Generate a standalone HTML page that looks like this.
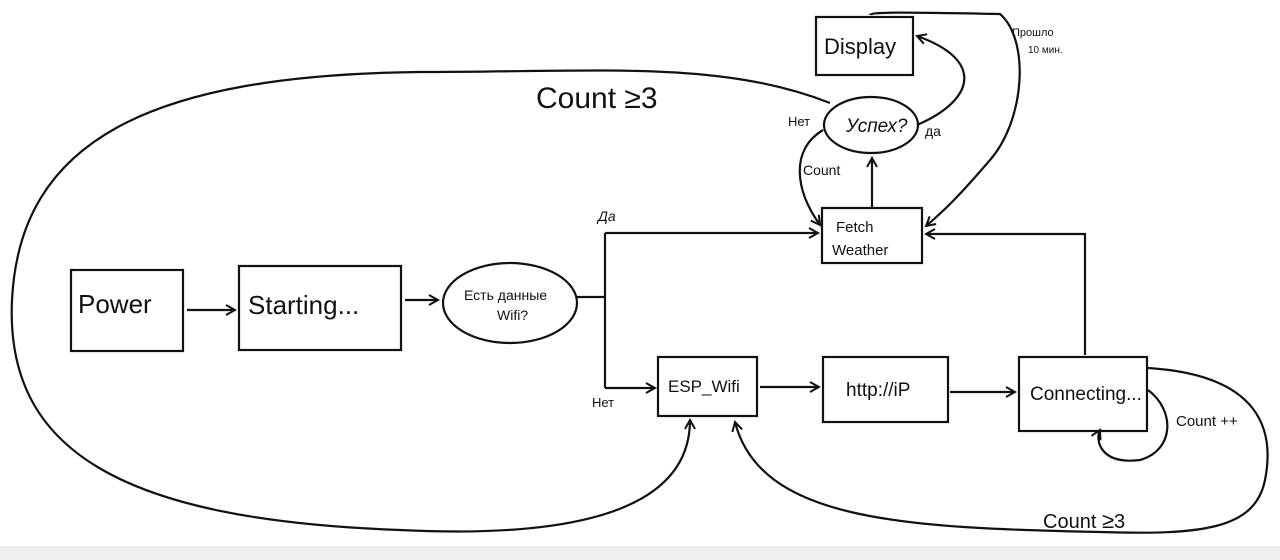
<!DOCTYPE html>
<html><head><meta charset="utf-8"><style>
html,body{margin:0;padding:0;background:#fff;}
svg{display:block;}
text{font-family:"Liberation Sans","DejaVu Sans",sans-serif;fill:#111;}
</style></head><body>
<svg width="1280" height="560" viewBox="0 0 1280 560" xmlns="http://www.w3.org/2000/svg">
<defs><marker id="a" markerWidth="12" markerHeight="12" refX="10" refY="6" orient="auto" markerUnits="userSpaceOnUse"><path d="M1,1 L10,6 L1,11" fill="none" stroke="#111" stroke-width="2"/></marker></defs>
<rect x="0" y="546" width="1280" height="14" fill="#efefef"/>
<g fill="none" stroke="#111" stroke-width="2.2">
<rect x="71" y="270" width="112" height="81"/>
<rect x="239" y="266" width="162" height="84"/>
<ellipse cx="510" cy="303" rx="67" ry="40"/>
<rect x="822" y="208" width="100" height="55"/>
<ellipse cx="871" cy="125" rx="47" ry="28"/>
<rect x="816" y="17" width="97" height="58"/>
<rect x="658" y="357" width="99" height="59"/>
<rect x="823" y="357" width="125" height="65"/>
<rect x="1019" y="357" width="128" height="74"/>
<path d="M187,310 L235,310" marker-end="url(#a)"/>
<path d="M405,300 L438,300" marker-end="url(#a)"/>
<path d="M577,297 L605,297 M605,233 L605,388"/>
<path d="M605,233 L818,233" marker-end="url(#a)"/>
<path d="M605,388 L655,388" marker-end="url(#a)"/>
<path d="M760,387 L819,387" marker-end="url(#a)"/>
<path d="M950,392 L1015,392" marker-end="url(#a)"/>
<path d="M1085,355 L1085,234 L926,234" marker-end="url(#a)"/>
<path d="M872,208 L872,158" marker-end="url(#a)"/>
<path d="M823,130 C790,150 795,190 820,225" marker-end="url(#a)"/>
<path d="M917,125 C975,100 985,60 917,36" marker-end="url(#a)"/>
<path d="M870,15 C870,12 900,12 1000,14 C1030,40 1025,120 990,160 C960,195 945,210 926,226" marker-end="url(#a)"/>
<path d="M830,103 C720,60 600,72 420,72 C150,75 20,140 12,300 C5,450 120,520 400,530 C600,540 690,500 690,420" marker-end="url(#a)"/>
<path d="M1148,368 C1260,375 1275,430 1265,480 C1255,530 1200,535 1100,532 C900,528 760,520 735,422" marker-end="url(#a)"/>
<path d="M1148,390 C1175,410 1175,450 1140,460 C1100,465 1095,440 1100,430" marker-end="url(#a)"/>
</g>
<text x="78" y="313" font-size="26">Power</text>
<text x="248" y="314" font-size="26">Starting...</text>
<text x="464" y="300" font-size="14">Есть данные</text>
<text x="497" y="320" font-size="14">Wifi?</text>
<text x="836" y="232" font-size="15">Fetch</text>
<text x="832" y="255" font-size="15">Weather</text>
<text x="846" y="132" font-size="19" font-style="italic">Успех?</text>
<text x="824" y="54" font-size="22">Display</text>
<text x="668" y="392" font-size="17">ESP_Wifi</text>
<text x="846" y="396" font-size="19">http://iP</text>
<text x="1030" y="400" font-size="19">Connecting...</text>
<text x="598" y="221" font-size="14" font-style="italic">Да</text>
<text x="592" y="407" font-size="13">Нет</text>
<text x="788" y="126" font-size="13">Нет</text>
<text x="925" y="136" font-size="14">да</text>
<text x="803" y="175" font-size="14">Count</text>
<text x="1012" y="36" font-size="11">Прошло</text>
<text x="1028" y="53" font-size="10">10 мин.</text>
<text x="536" y="108" font-size="30">Count ≥3</text>
<text x="1043" y="528" font-size="20">Count <tspan font-size="22">≥</tspan>3</text>
<text x="1176" y="426" font-size="15">Count ++</text>
</svg>
</body></html>
